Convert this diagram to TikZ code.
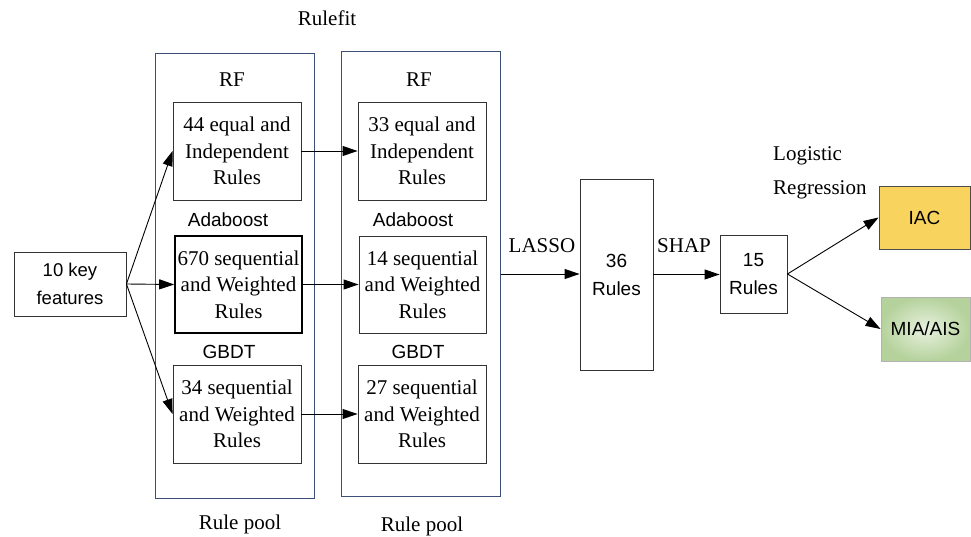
\documentclass[tikz,border=0pt]{standalone}
\usepackage{fontspec}
\setmainfont{Liberation Serif}
\setsansfont{Liberation Sans}
\usetikzlibrary{arrows.meta}
\definecolor{poolblue}{HTML}{3C5078}
\definecolor{iacfill}{HTML}{F8D35E}
\definecolor{miain}{HTML}{E8F1DF}
\definecolor{miaout}{HTML}{B5D29C}
\tikzset{
  serif/.style={font=\fontsize{21}{26.5}\selectfont\rmfamily},
  sans/.style={font=\fontsize{19}{28}\selectfont\sffamily},
  rulebox/.style={draw=black!80, line width=0.9pt, inner sep=0pt, align=center, serif,
    minimum width=128pt, minimum height=98pt},
  poolbox/.style={draw=poolblue, line width=1pt, inner sep=0pt, minimum width=159pt, minimum height=444pt},
  sbox/.style={draw=black!80, line width=0.9pt, inner sep=0pt, align=center, sans},
  conn/.style={line width=0.9pt, -{Triangle[length=15pt,width=10pt]}},
  plain/.style={inner sep=0pt, align=center}
}
\begin{document}
\begin{tikzpicture}[x=1pt,y=-1pt]
\useasboundingbox (0,0) rectangle (971,537);
% titles
\node[plain, serif] (rulefit) at (327,18) {Rulefit};
% pools
\node[poolbox] (poolL) at (234.5,276) {};
\node[poolbox] (poolR) at (420.5,274) {};
% headers
\node[plain, serif] (rfL) at (232,80) {RF};
\node[plain, serif] (rfR) at (419,80) {RF};
\node[plain, sans] (adaL) at (228,220) {Adaboost};
\node[plain, sans] (adaR) at (413,220) {Adaboost};
\node[plain, sans] (gbL) at (229,352) {GBDT};
\node[plain, sans] (gbR) at (418,352) {GBDT};
% rule boxes
\node[rulebox] (b1) at (237,151) {44 equal and\\Independent\\Rules};
\node[rulebox, draw=black, line width=1.6pt, minimum width=127pt, minimum height=97pt] (b2) at (238.5,284.5) {670 sequential\\and Weighted\\Rules};
\node[rulebox] (b3) at (237,414) {34 sequential\\and Weighted\\Rules};
\node[rulebox] (b4) at (422,151) {33 equal and\\Independent\\Rules};
\node[rulebox, minimum width=127pt, minimum height=97pt] (b5) at (422.5,284.5) {14 sequential\\and Weighted\\Rules};
\node[rulebox] (b6) at (422,414) {27 sequential\\and Weighted\\Rules};
% pool labels
\node[plain, serif] (rpL) at (240,524) {Rule pool};
\node[plain, serif] (rpR) at (422,526) {Rule pool};
% key features
\node[sbox, minimum width=112pt, minimum height=64pt, font=\fontsize{18.5}{28}\selectfont\sffamily] (key) at (70,284) {10 key\\features};
% 36 rules, 15 rules
\node[sbox, minimum width=73pt, minimum height=191pt] (r36) at (616.5,274.5) {36\\Rules};
\node[sbox, minimum width=67pt, minimum height=78pt] (r15) at (753.5,274) {15\\Rules};
% outputs
\node[sbox, draw=black!70, fill=iacfill, minimum width=91pt, minimum height=63pt] (iac) at (924.5,217.5) {IAC};
\node[sbox, draw=black!30, inner color=miain, outer color=miaout, minimum width=89pt, minimum height=64pt] (mia) at (925.5,329) {MIA/AIS};
% labels
\node[plain, serif] (lasso) at (542,246) {LASSO};
\node[plain, serif] (shap) at (684,246) {SHAP};
\node[plain, serif, anchor=west] (logi) at (773,156) {Logistic};
\node[plain, serif, anchor=west] (regr) at (773,190) {Regression};
% connectors
\draw[conn] (key.east) -- (b1.west);
\draw[conn] (key.east) -- (b2.west);
\draw[conn] (key.east) -- (b3.west);
\draw[conn] (b1.east) -- (b4.west);
\draw[conn] (b2.east) -- (b2.east -| b5.west);
\draw[conn] (b3.east) -- (b6.west);
\draw[conn] (poolR.east) -- (poolR.east -| r36.west);
\draw[conn] (r36.east) -- (r36.east -| r15.west);
\draw[conn] (r15.east) -- (iac.west);
\draw[conn] (r15.east) -- (mia.west);
\end{tikzpicture}
\end{document}
